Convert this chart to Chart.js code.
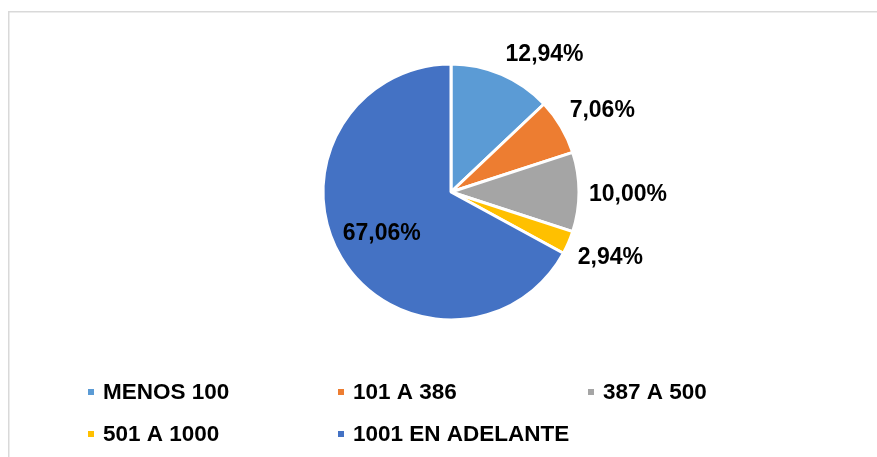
<!DOCTYPE html>
<html>
<head>
<meta charset="utf-8">
<script src="https://cdn.jsdelivr.net/npm/chart.js@4.4.1/dist/chart.umd.min.js"></script>
<style>
  html, body { margin: 0; padding: 0; background: #fff; }
  #wrap { width: 877px; height: 457px; position: relative; }
</style>
</head>
<body>
<div id="wrap"><canvas id="canvas-pie"></canvas></div>
<script>
const categories = ["MENOS 100", "101 A 386", "387 A 500", "501 A 1000", "1001 EN ADELANTE"];
const percents = [12.94, 7.06, 10.00, 2.94, 67.06];
const sliceColors = ["#5B9BD5", "#ED7D31", "#A5A5A5", "#FFC000", "#4472C4"];

const LABEL_FONT = "bold 23px 'Liberation Sans', Arial, sans-serif";
const LEGEND_FONT = "bold 22.5px 'Liberation Sans', Arial, sans-serif";

// light gray frame like the excel chart area
const framePlugin = {
  id: "frame",
  beforeDraw(chart) {
    const ctx = chart.ctx;
    ctx.save();
    ctx.strokeStyle = "#d9d9d9";
    ctx.lineWidth = 1.5;
    ctx.strokeRect(8.75, 11.75, chart.width + 20, chart.height + 20);
    ctx.restore();
  },
};

// percentage labels, outside for small slices, inside for the big one
const labelsPlugin = {
  id: "pctLabels",
  afterDatasetsDraw(chart) {
    const ctx = chart.ctx;
    const meta = chart.getDatasetMeta(0);
    ctx.save();
    ctx.font = LABEL_FONT;
    ctx.fillStyle = "#000";
    ctx.textAlign = "center";
    ctx.textBaseline = "middle";
    meta.data.forEach((arc, i) => {
      const p = arc.getProps(["x", "y", "startAngle", "endAngle", "outerRadius"], true);
      const mid = (p.startAngle + p.endAngle) / 2;
      const txt = percents[i].toFixed(2).replace(".", ",") + "%";
      const w = ctx.measureText(txt).width;
      const h = 22;
      let x, y;
      if (percents[i] > 50) {
        x = p.x + Math.cos(mid) * p.outerRadius * 0.63;
        y = p.y + Math.sin(mid) * p.outerRadius * 0.63;
      } else {
        // nearest corner of the text box sits just outside the edge
        const r = p.outerRadius + 10;
        const c = Math.cos(mid), s = Math.sin(mid);
        x = p.x + c * r + Math.sign(c) * w / 2;
        y = p.y + s * r + (Math.abs(s) < 0.05 ? 3 : Math.sign(s) * h / 2);
      }
      ctx.fillText(txt, x, y);
    });
    ctx.restore();
  },
};

// legend in a 3 column grid under the pie
const legendPlugin = {
  id: "gridLegend",
  afterDraw(chart) {
    const ctx = chart.ctx;
    const labels = chart.data.labels;
    const colors = chart.data.datasets[0].backgroundColor;
    ctx.save();
    ctx.font = LEGEND_FONT;
    ctx.textBaseline = "middle";
    ctx.textAlign = "left";
    labels.forEach((lab, i) => {
      const col = i % 3;
      const row = Math.floor(i / 3);
      const x = 88 + col * 250;
      const y = 392 + row * 42;
      ctx.fillStyle = colors[i];
      ctx.fillRect(x, y - 3, 6, 6);
      ctx.fillStyle = "#000";
      ctx.fillText(lab, x + 15, y + 1);
    });
    ctx.restore();
  },
};

const canvas = document.getElementById("canvas-pie");
const pieChart = new Chart(canvas, {
  type: "pie",
  data: {
    labels: categories,
    datasets: [
      {
        data: percents,
        backgroundColor: sliceColors,
        borderColor: "#ffffff",
        borderWidth: 3,
        radius: 128,
      },
    ],
  },
  options: {
    responsive: true,
    maintainAspectRatio: false,
    animation: false,
    layout: {
      padding: { top: 64, bottom: 137, left: 323, right: 298 },
    },
    plugins: {
      legend: { display: false },
      tooltip: { enabled: false },
    },
  },
  plugins: [framePlugin, labelsPlugin, legendPlugin],
});
</script>
</body>
</html>
